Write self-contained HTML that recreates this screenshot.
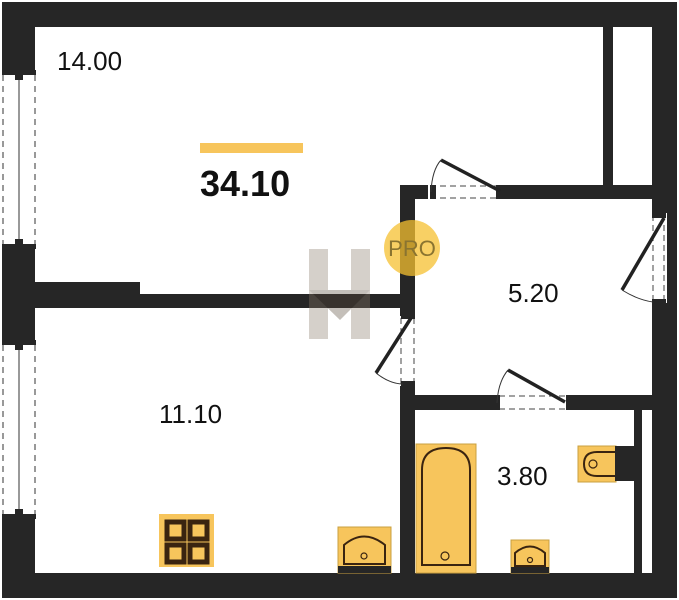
<!DOCTYPE html>
<html><head><style>
html,body{margin:0;padding:0;background:#fff;}
svg{display:block;}
text{font-family:"Liberation Sans",sans-serif;fill:#111;}
</style></head><body>
<svg width="679" height="600" viewBox="0 0 679 600" xmlns="http://www.w3.org/2000/svg">
<g fill="#262626">
<rect x="2" y="2" width="675" height="25"/>
<rect x="2" y="2" width="33" height="596"/>
<rect x="652" y="2" width="25" height="596"/>
<rect x="2" y="573" width="675" height="25"/>
<rect x="35" y="282" width="105" height="26"/>
<rect x="140" y="294" width="262" height="14"/>
<rect x="400" y="185" width="15" height="390"/>
<rect x="400" y="185" width="252" height="14"/>
<rect x="603" y="27" width="10" height="160"/>
<rect x="415" y="395" width="237" height="15"/>
<rect x="634" y="410" width="8" height="165"/>
</g>
<g fill="#fff">
<rect x="0" y="72" width="36" height="175"/>
<rect x="0" y="342" width="36" height="175"/>
<rect x="428" y="184" width="74" height="16"/>
<rect x="650" y="213" width="17" height="90"/>
<rect x="399" y="316" width="17" height="70"/>
<rect x="497" y="394" width="72" height="17"/>
<rect x="642" y="410" width="10" height="163"/>
</g>
<g stroke="#333" fill="none">
<line x1="3" y1="75" x2="3" y2="245" stroke-dasharray="6,5"/>
<line x1="35" y1="75" x2="35" y2="245" stroke-dasharray="6,5"/>
<line x1="19" y1="75" x2="19" y2="245"/>
<line x1="3" y1="345" x2="3" y2="515" stroke-dasharray="6,5"/>
<line x1="35" y1="345" x2="35" y2="515" stroke-dasharray="6,5"/>
<line x1="19" y1="345" x2="19" y2="515"/>
</g>
<g fill="#262626">
<rect x="2" y="70" width="34" height="5"/><rect x="15" y="74" width="8" height="6"/>
<rect x="2" y="244" width="34" height="5"/><rect x="15" y="239" width="8" height="6"/>
<rect x="2" y="340" width="34" height="5"/><rect x="15" y="344" width="8" height="6"/>
<rect x="2" y="514" width="34" height="5"/><rect x="15" y="509" width="8" height="6"/>
</g>
<g stroke="#444" fill="none" stroke-dasharray="6,4">
<line x1="430" y1="186" x2="500" y2="186"/><line x1="430" y1="198" x2="500" y2="198"/>
<line x1="653" y1="215" x2="653" y2="300"/><line x1="664" y1="215" x2="664" y2="300"/>
<line x1="401" y1="318" x2="401" y2="384"/><line x1="414" y1="318" x2="414" y2="384"/>
<line x1="499" y1="396" x2="567" y2="396"/><line x1="499" y1="409" x2="567" y2="409"/>
</g>
<g fill="#262626">
<rect x="430" y="185" width="6" height="14"/><rect x="496" y="185" width="7" height="14"/>
<rect x="652" y="212" width="14" height="6"/><rect x="652" y="299" width="14" height="6"/>
<rect x="401" y="313" width="14" height="6"/><rect x="401" y="381" width="14" height="6"/>
<rect x="494" y="395" width="6" height="15"/><rect x="566" y="395" width="7" height="15"/>
</g>
<g stroke="#222" stroke-width="3.5">
<line x1="441" y1="160" x2="500" y2="191"/>
<line x1="664" y1="218" x2="622" y2="290"/>
<line x1="411" y1="318" x2="376" y2="373"/>
<line x1="508" y1="370" x2="565" y2="402"/>
</g>
<g stroke="#333" fill="none" stroke-width="1">
<path d="M431,192 Q432,170 441,160"/>
<path d="M622,290 Q638,300 653,302"/>
<path d="M376,373 Q390,384 403,384"/>
<path d="M497,403 Q498,382 508,370"/>
</g>
<g stroke="#3a2410" stroke-width="2">
<rect x="159" y="514" width="55" height="53" fill="#f7c55c" stroke="none"/>
<rect x="167" y="522" width="17" height="17" fill="#f7c55c" stroke-width="5"/>
<rect x="190" y="522" width="17" height="17" fill="#f7c55c" stroke-width="5"/>
<rect x="167" y="545" width="17" height="17" fill="#f7c55c" stroke-width="5"/>
<rect x="190" y="545" width="17" height="17" fill="#f7c55c" stroke-width="5"/>
<rect x="338" y="527" width="53" height="46" fill="#f7c55c" stroke="#c9a040" stroke-width="1"/>
<path d="M344,564 L344,545 Q364,528 385,545 L385,564 Z" fill="#f7c55c"/>
<circle cx="364" cy="556" r="3" fill="none" stroke-width="1.2"/>
<rect x="416" y="444" width="60" height="129" fill="#f7c55c" stroke="#c9a040" stroke-width="1"/>
<path d="M422,565 L422,470 Q422,448 446,448 Q470,448 470,470 L470,565 Z" fill="#f7c55c"/>
<circle cx="445" cy="556" r="4" fill="none" stroke-width="1.2"/>
<rect x="511" y="540" width="38" height="33" fill="#f7c55c" stroke="#c9a040" stroke-width="1"/>
<path d="M515,566 L515,553 Q530,540 545,553 L545,566 Z" fill="#f7c55c"/>
<circle cx="530" cy="560" r="2.5" fill="none" stroke-width="1.2"/>
<rect x="578" y="446" width="38" height="36" fill="#f7c55c" stroke="#c9a040" stroke-width="1"/>
<path d="M615,452 L597,452 Q584,452 584,464 Q584,476 597,476 L615,476" fill="none"/>
<circle cx="593" cy="464" r="4" fill="none" stroke-width="1.2"/>
</g>
<rect x="511" y="567" width="38" height="6" fill="#262626"/>
<rect x="338" y="566" width="53" height="7" fill="#262626"/>
<rect x="615" y="446" width="19" height="35" fill="#262626"/>
<g opacity="0.35">
<rect x="309" y="249" width="19" height="90" fill="#8a7a6a"/>
<rect x="351" y="249" width="19" height="90" fill="#8a7a6a"/>
<polygon points="309,290 370,290 340,320" fill="#5a4a3a"/>
</g>
<circle cx="412" cy="248" r="28" fill="#f5c030" opacity="0.75"/>
<text x="412" y="256" text-anchor="middle" font-size="22" style="fill:#8a7430">PRO</text>
<rect x="200" y="143" width="103" height="10" fill="#f7c55c"/>
<text x="57" y="70" font-size="26">14.00</text>
<text x="200" y="196" font-size="36" font-weight="bold">34.10</text>
<text x="508" y="302" font-size="26">5.20</text>
<text x="159" y="423" font-size="26">11.10</text>
<text x="497" y="485" font-size="26">3.80</text>
</svg>
</body></html>
